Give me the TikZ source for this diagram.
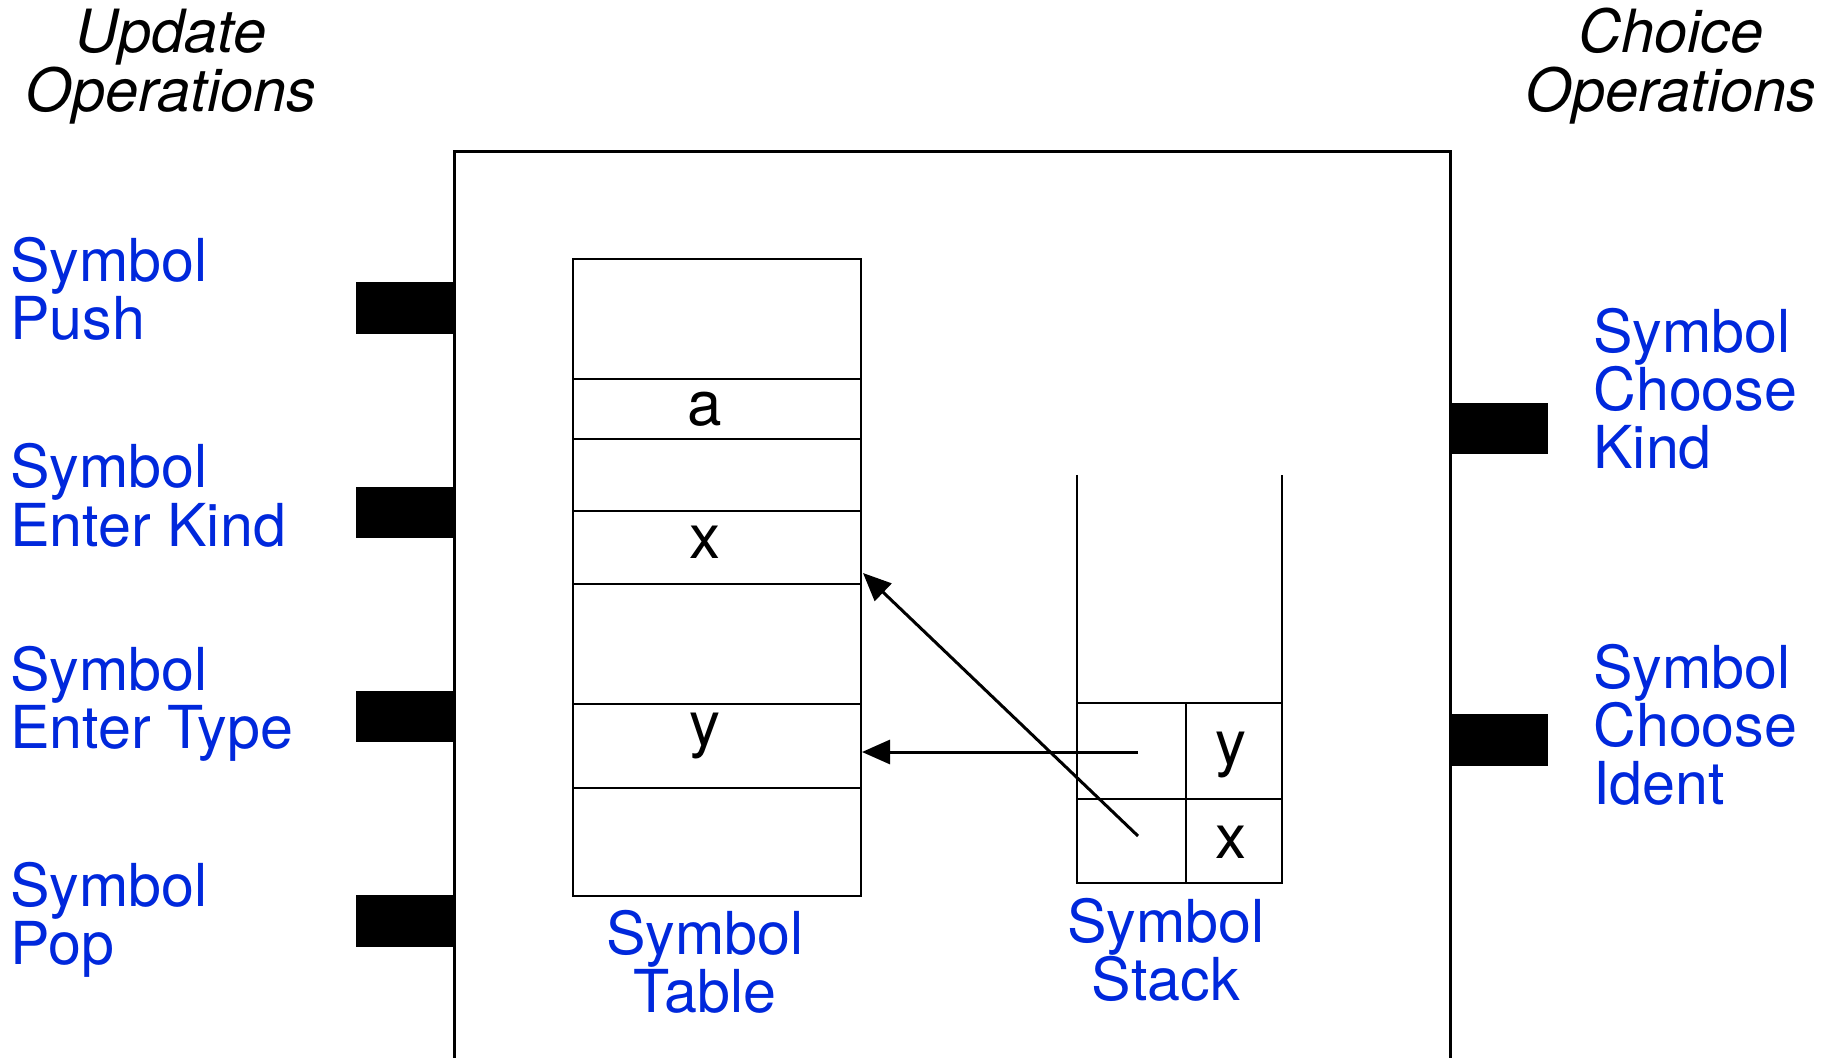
\documentclass[tikz,border=0pt]{standalone}
\usepackage{fontspec}
\setmainfont{TeX Gyre Heros}
\usetikzlibrary{arrows.meta}
\definecolor{lblue}{RGB}{0,40,220}
\newcommand\lstack[1]{\vtop{\halign{##\hfil\cr#1\crcr}}}
\newcommand\cstack[1]{\vtop{\halign{\hfil##\hfil\cr#1\crcr}}}
\begin{document}
\begin{tikzpicture}[x=0.5pt,y=-0.5pt, line width=1.4pt,
  lab/.style={inner sep=0pt, text=lblue, font=\fontsize{29.6}{29}\selectfont},
  head/.style={inner sep=0pt, font=\fontsize{29.8}{29.5}\selectfont\itshape},
  cell/.style={inner sep=0pt, font=\fontsize{31}{31}\selectfont},
  arr/.style={-{Triangle[length=14pt,width=12pt]}, line width=1.5pt},
  port/.style={fill=black}]
\useasboundingbox (0,0) rectangle (1830,1058);
\clip (0,0) rectangle (1830,1058);
% headers
\node[head, anchor=base] (uh) at (171,53) {\cstack{Update\cr Operations}};
\node[head, anchor=base] (ch) at (1671,53) {\cstack{Choice\cr Operations}};
% main box
\draw[line width=1.5pt] (454,1070) -- (454,152) -- (1450,152) -- (1450,1070);
% ports
\fill[port] (356,282) rectangle (455,334);
\fill[port] (356,487) rectangle (455,538);
\fill[port] (356,691) rectangle (455,742);
\fill[port] (356,895) rectangle (455,947);
\fill[port] (1449,403) rectangle (1548,454);
\fill[port] (1449,714) rectangle (1548,766);
% left labels
\node[lab, anchor=base west] (lpush) at (9,282) {\lstack{Symbol\cr Push}};
\node[lab, anchor=base west] (lkind) at (9,488) {\lstack{Symbol\cr Enter Kind}};
\node[lab, anchor=base west] (ltype) at (9,690) {\lstack{Symbol\cr Enter Type}};
\node[lab, anchor=base west] (lpop) at (9,906) {\lstack{Symbol\cr Pop}};
% right labels
\node[lab, anchor=base west] (rkind) at (1592,353) {\lstack{Symbol\cr Choose\cr Kind}};
\node[lab, anchor=base west] (rident) at (1592,688) {\lstack{Symbol\cr Choose\cr Ident}};
% symbol table
\draw (573,259) rectangle (861,896);
\foreach \yy in {379,439,511,584,704,788} \draw (573,\yy) -- (861,\yy);
\node[cell, anchor=base] (ta) at (705,426) {a};
\node[cell, anchor=base] (tx) at (705,559) {x};
\node[cell, anchor=base] (ty) at (705,745) {y};
\node[lab, anchor=base] (tlab) at (705,954) {\cstack{Symbol\cr Table}};
% symbol stack
\draw (1077,475) -- (1077,883) -- (1282,883) -- (1282,475);
\draw (1077,703) -- (1282,703);
\draw (1077,799) -- (1282,799);
\draw (1186,703) -- (1186,883);
\node[cell, anchor=base] (sy) at (1231,764) {y};
\node[cell, anchor=base] (sx) at (1231,858) {x};
\node[lab, anchor=base] (slab) at (1166,942) {\cstack{Symbol\cr Stack}};
% pointers
\coordinate (px) at (1138,836);
\coordinate (py) at (1138,752);
\coordinate (qx) at (863,573);
\coordinate (qy) at (862,752);
\draw[arr] (py) -- (qy);
\draw[arr] (px) -- (qx);
\end{tikzpicture}
\end{document}
